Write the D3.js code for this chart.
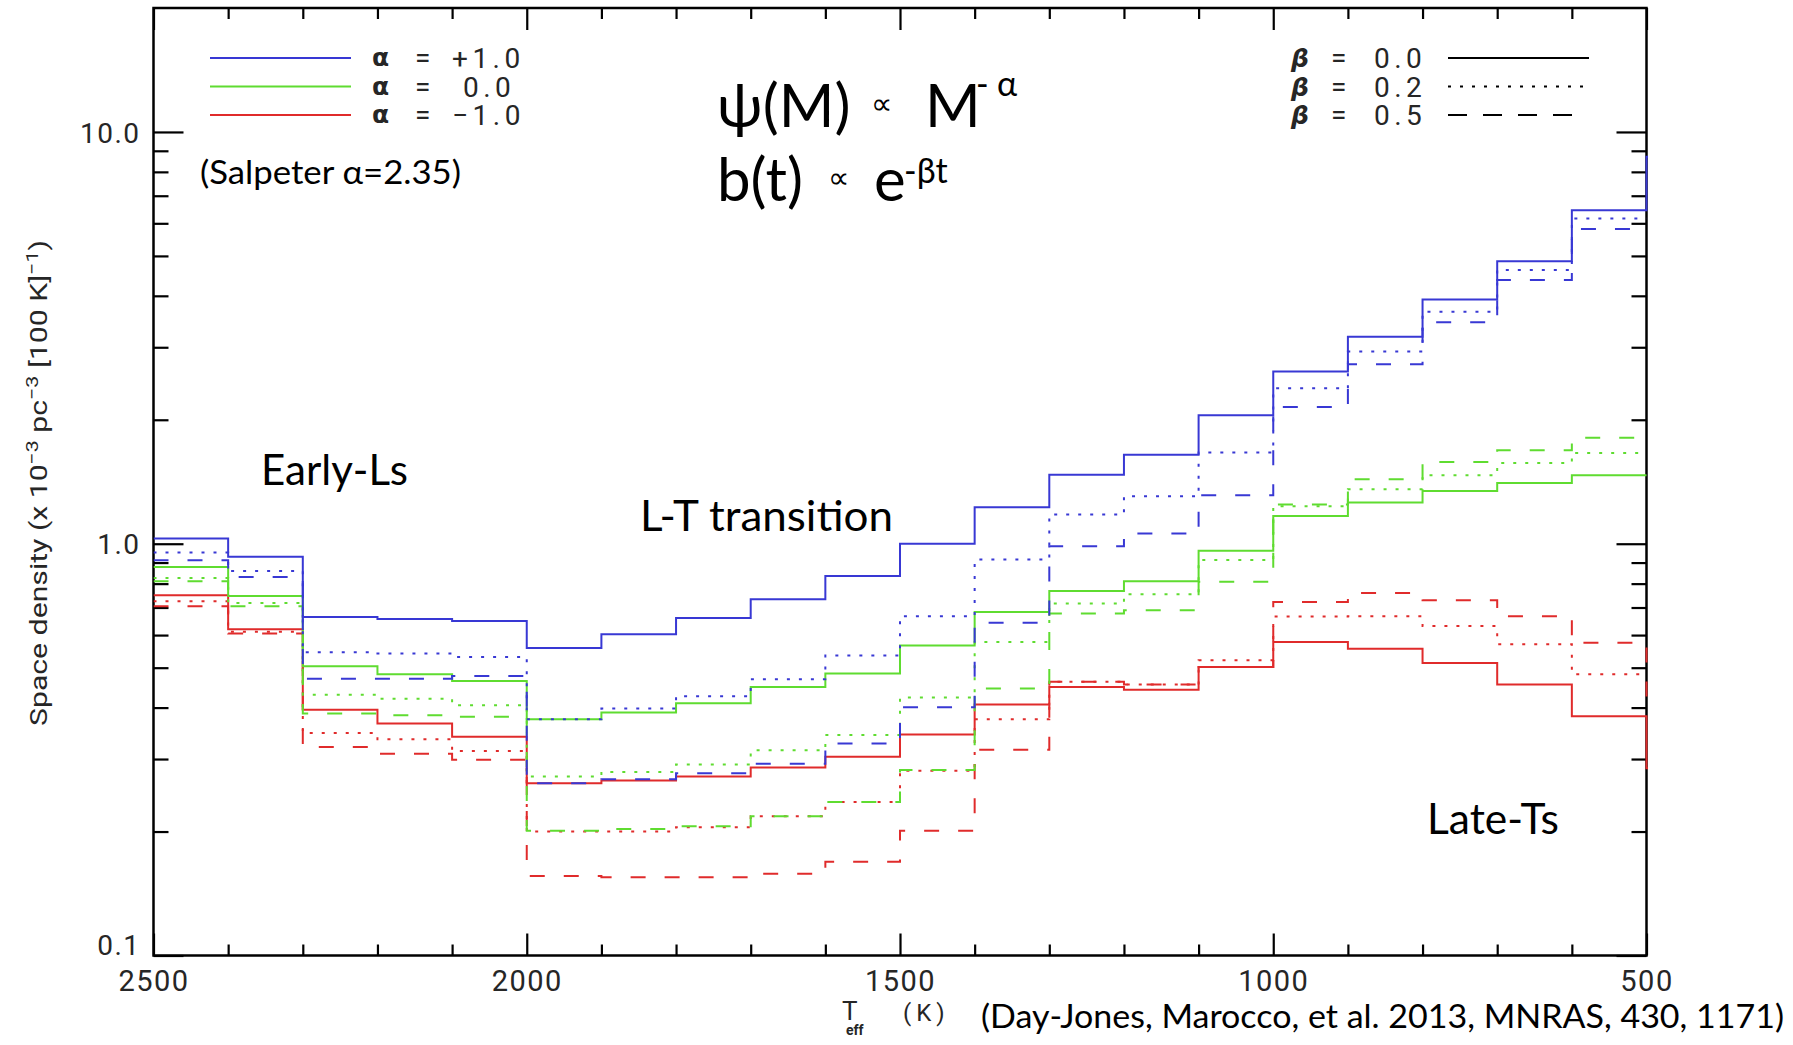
<!DOCTYPE html>
<html><head><meta charset="utf-8">
<script src="https://cdn.jsdelivr.net/npm/d3@7"></script>
<style>
body{margin:0;background:#fff;}
svg{display:block;background:#fff;}
.idl{font-family:Roboto,"Liberation Sans",sans-serif;font-weight:400;fill:#262626;}
.cal{font-family:Lato,"Open Sans","Noto Sans",sans-serif;fill:#000;}
.tick text{font-family:Roboto,"Liberation Sans",sans-serif;font-weight:400;fill:#262626;}
</style></head><body>
<svg id="c" width="1793" height="1045"></svg>
<script>
// ---------------- DATA ----------------
// upper edge of each 100 K bin (Teff, K)
const teffBinStart = [2500,2400,2300,2200,2100,2000,1900,1800,1700,1600,1500,1400,1300,1200,1100,1000,900,800,700,600];
const binWidthK = 100;
// space density (x 1e-3 pc^-3 [100 K]^-1)
const rho_aP1_b00 = [1.03,0.93,0.664,0.656,0.649,0.558,0.603,0.66,0.733,0.835,1.0,1.226,1.47,1.645,2.05,2.62,3.18,3.92,4.85,6.45];
const rho_aP1_b02 = [0.952,0.859,0.545,0.541,0.531,0.375,0.398,0.426,0.469,0.535,0.667,0.915,1.178,1.304,1.665,2.384,2.93,3.66,4.62,6.16];
const rho_aP1_b05 = [0.912,0.83,0.47,0.47,0.477,0.262,0.268,0.277,0.292,0.327,0.401,0.643,0.986,1.059,1.311,2.149,2.73,3.45,4.37,5.81];
const rho_a00_b00 = [0.878,0.747,0.504,0.482,0.464,0.375,0.389,0.41,0.449,0.484,0.566,0.683,0.768,0.811,0.961,1.168,1.259,1.343,1.405,1.467];
const rho_a00_b02 = [0.826,0.718,0.43,0.42,0.405,0.272,0.279,0.291,0.315,0.343,0.423,0.577,0.716,0.754,0.913,1.233,1.356,1.467,1.571,1.662];
const rho_a00_b05 = [0.811,0.705,0.387,0.383,0.38,0.201,0.203,0.206,0.218,0.236,0.282,0.445,0.677,0.689,0.808,1.245,1.434,1.58,1.686,1.808];
const rho_aM1_b00 = [0.75,0.62,0.395,0.366,0.34,0.262,0.266,0.272,0.286,0.304,0.344,0.407,0.449,0.442,0.502,0.577,0.556,0.513,0.455,0.381];
const rho_aM1_b02 = [0.725,0.611,0.347,0.335,0.314,0.2,0.2,0.205,0.218,0.236,0.281,0.375,0.462,0.455,0.521,0.666,0.667,0.631,0.57,0.482];
const rho_aM1_b05 = [0.705,0.605,0.321,0.309,0.299,0.156,0.155,0.155,0.158,0.169,0.201,0.316,0.462,0.455,0.502,0.722,0.759,0.729,0.667,0.575];
// value of the (clipped) bin just beyond 500 K, where visible
const beyond500 = {aP1_b00:8.7, aM1_b00:0.285, aM1_b05:0.40};

const alphaLabels = ["+1.0","0.0","\u22121.0"];
const betaLabels = ["0.0","0.2","0.5"];
const xTickMajor = [2500,2000,1500,1000,500];
const yTickMajor = [0.1,1,10];

// ---------------- STYLE ----------------
const colorAlpha = {"1":"#3838d4","0":"#5fdc30","-1":"#e02b2b"};
const dashBeta = {"0":null,"0.2":"3,9","0.5":"15,19"};

const series = [
  {key:"aM1_b00",alpha:-1,beta:0,v:rho_aM1_b00},
  {key:"aM1_b02",alpha:-1,beta:0.2,v:rho_aM1_b02},
  {key:"aM1_b05",alpha:-1,beta:0.5,v:rho_aM1_b05},
  {key:"a00_b00",alpha:0,beta:0,v:rho_a00_b00},
  {key:"a00_b02",alpha:0,beta:0.2,v:rho_a00_b02},
  {key:"a00_b05",alpha:0,beta:0.5,v:rho_a00_b05},
  {key:"aP1_b00",alpha:1,beta:0,v:rho_aP1_b00},
  {key:"aP1_b02",alpha:1,beta:0.2,v:rho_aP1_b02},
  {key:"aP1_b05",alpha:1,beta:0.5,v:rho_aP1_b05}
];

const svg = d3.select("#c");
const P = {left:153.5,right:1646.5,top:8,bottom:955.5};
const x = d3.scaleLinear().domain([2500,500]).range([P.left,P.right]);
const y = d3.scaleLog().domain([0.1,20]).range([P.bottom,P.top]);

svg.append("defs").append("clipPath").attr("id","clip")
  .append("rect").attr("x",P.left).attr("y",P.top).attr("width",P.right-P.left+1.5).attr("height",P.bottom-P.top);

// ---------------- AXES ----------------
const xMinor = d3.range(2500,499,-100).filter(t=>xTickMajor.indexOf(t)<0);
const yMinor = [];
[0.1,1,10].forEach(d=>{for(let k=2;k<=9;k++){const v=+(d*k).toPrecision(3);if(v<20)yMinor.push(v);}});

function styleAxis(g){g.select(".domain").remove();g.selectAll(".tick line").attr("stroke","#000").attr("stroke-width",2.2);}
const fmtY = d3.format(".1f");

svg.append("rect").attr("x",P.left).attr("y",P.top).attr("width",P.right-P.left).attr("height",P.bottom-P.top)
  .attr("fill","none").attr("stroke","#000").attr("stroke-width",2.5);

svg.append("g").attr("transform",`translate(0,${P.bottom})`)
  .call(d3.axisBottom(x).tickValues(xTickMajor).tickSize(-22).tickPadding(15).tickFormat(d3.format("d")))
  .call(styleAxis).call(g=>g.selectAll("text").attr("font-size",29).attr("letter-spacing","1.5px"));
svg.append("g").attr("transform",`translate(0,${P.bottom})`)
  .call(d3.axisBottom(x).tickValues(xMinor).tickSize(-11).tickFormat("")).call(styleAxis);
svg.append("g").attr("transform",`translate(0,${P.top})`)
  .call(d3.axisTop(x).tickValues(xTickMajor).tickSize(-22).tickFormat("")).call(styleAxis);
svg.append("g").attr("transform",`translate(0,${P.top})`)
  .call(d3.axisTop(x).tickValues(xMinor).tickSize(-11).tickFormat("")).call(styleAxis);

svg.append("g").attr("transform",`translate(${P.left},0)`)
  .call(d3.axisLeft(y).tickValues(yTickMajor).tickSize(-30).tickPadding(13).tickFormat(fmtY))
  .call(styleAxis).call(g=>g.selectAll("text").attr("font-size",28).attr("letter-spacing","1.5px")
     .attr("dy",d=>d===0.1?"-0.02em":"0.36em"));
svg.append("g").attr("transform",`translate(${P.left},0)`)
  .call(d3.axisLeft(y).tickValues(yMinor).tickSize(-15).tickFormat("")).call(styleAxis);
svg.append("g").attr("transform",`translate(${P.right},0)`)
  .call(d3.axisRight(y).tickValues(yTickMajor).tickSize(-30).tickFormat("")).call(styleAxis);
svg.append("g").attr("transform",`translate(${P.right},0)`)
  .call(d3.axisRight(y).tickValues(yMinor).tickSize(-15).tickFormat("")).call(styleAxis);

// ---------------- DATA LINES (drawn over the frame, as in the original) ----------------
const line = d3.line().x(d=>x(d[0])).y(d=>y(d[1]));
function steps(s){
  const pts=[];
  s.v.forEach((val,i)=>{pts.push([teffBinStart[i],val]);pts.push([teffBinStart[i]-binWidthK,val]);});
  const nx = beyond500[s.key];
  if(nx!=null){const t=teffBinStart[teffBinStart.length-1]-binWidthK;pts.push([t,nx]);pts.push([t-binWidthK,nx]);}
  return pts;
}
const gl = svg.append("g").attr("clip-path","url(#clip)");
series.forEach(s=>{
  gl.append("path").attr("d",line(steps(s))).attr("fill","none")
    .attr("stroke",colorAlpha[String(s.alpha)]).attr("stroke-width",2)
    .attr("stroke-dasharray",dashBeta[String(s.beta)]);
});

// axis titles
const yt = svg.append("text").attr("class","idl").attr("font-size",24)
  .attr("transform","translate(47,483) rotate(-90)").attr("text-anchor","middle")
  .attr("textLength",486).attr("lengthAdjust","spacingAndGlyphs");
yt.append("tspan").text("Space density (x 10");
yt.append("tspan").attr("dy",-9).attr("font-size",17).text("\u22123");
yt.append("tspan").attr("dy",9).text(" pc");
yt.append("tspan").attr("dy",-9).attr("font-size",17).text("\u22123");
yt.append("tspan").attr("dy",9).text(" [100 K]");
yt.append("tspan").attr("dy",-9).attr("font-size",17).text("\u22121");
yt.append("tspan").attr("dy",9).text(")");

const xt = svg.append("text").attr("class","idl");
xt.append("tspan").attr("x",842).attr("y",1020).attr("font-size",26).text("T");
xt.append("tspan").attr("x",846).attr("y",1035).attr("font-size",14).attr("font-weight",700).text("eff");
xt.append("tspan").attr("x",903).attr("y",1021).attr("font-size",24).attr("letter-spacing","5px").text("(K)");

// ---------------- LEGENDS ----------------
const legA = svg.append("g");
[1,0,-1].forEach((a,i)=>{
  const yy = 58 + i*28.5;
  legA.append("line").attr("x1",210).attr("x2",351).attr("y1",yy).attr("y2",yy)
    .attr("stroke",colorAlpha[String(a)]).attr("stroke-width",2);
  const lab = alphaLabels[i];
  const signed = !/^\d/.test(lab);
  const t = legA.append("text").attr("class","idl").attr("font-size",28);
  t.append("tspan").attr("x",372).attr("y",yy+8).attr("font-family","'DejaVu Sans',sans-serif")
    .attr("font-weight","bold").attr("font-size",25).text("\u03b1");
  t.append("tspan").attr("x",415).attr("y",yy+9).text("=");
  t.append("tspan").attr("x",signed?452:463).attr("y",yy+10).attr("letter-spacing","4.5px").text(lab);
});
const legB = svg.append("g");
[0,0.2,0.5].forEach((b,i)=>{
  const yy = 58 + i*28.5;
  const t = legB.append("text").attr("class","idl").attr("font-size",28);
  t.append("tspan").attr("x",1291).attr("y",yy+9).attr("font-family","'DejaVu Sans',sans-serif")
    .attr("font-weight","bold").attr("font-style","italic").attr("font-size",25).text("\u03b2");
  t.append("tspan").attr("x",1331).attr("y",yy+9).text("=");
  t.append("tspan").attr("x",1374).attr("y",yy+10).attr("letter-spacing","4.5px").text(betaLabels[i]);
  legB.append("line").attr("x1",1448).attr("x2",b===0.5?1573:1589).attr("y1",yy).attr("y2",yy)
    .attr("stroke","#000").attr("stroke-width",2.2).attr("stroke-dasharray",b===0.5?"19,16":dashBeta[String(b)]);
});

// ---------------- ANNOTATIONS ----------------
function cal(xp,yp,size,txt,len){
  const t=svg.append("text").attr("class","cal").attr("x",xp).attr("y",yp).attr("font-size",size).text(txt);
  if(len) t.attr("textLength",len).attr("lengthAdjust","spacingAndGlyphs");
  return t;
}
const f1 = svg.append("text").attr("class","cal");
f1.append("tspan").attr("x",717).attr("y",127).attr("font-size",60).text("\u03c8(M)");
f1.append("tspan").attr("x",871).attr("y",114).attr("font-size",30).text("\u221d");
f1.append("tspan").attr("x",925).attr("y",127).attr("font-size",60).text("M");
f1.append("tspan").attr("x",976).attr("y",96).attr("font-size",34).text("-");
f1.append("tspan").attr("x",997).attr("y",96).attr("font-size",34).text("\u03b1");
const f2 = svg.append("text").attr("class","cal");
f2.append("tspan").attr("x",717).attr("y",201).attr("font-size",60).text("b(t)");
f2.append("tspan").attr("x",828).attr("y",188).attr("font-size",30).text("\u221d");
f2.append("tspan").attr("x",874).attr("y",201).attr("font-size",60).text("e");
f2.append("tspan").attr("x",904).attr("y",183).attr("font-size",34).text("-\u03b2t");

cal(200,184,32,"(Salpeter \u03b1=2.35)",261);
cal(261,485,43,"Early-Ls",147);
cal(640,531,43,"L-T transition",253);
cal(1427,834,43,"Late-Ts",132);
cal(981,1028,33,"(Day-Jones, Marocco, et al. 2013, MNRAS, 430, 1171)",803);
</script>
</body></html>
